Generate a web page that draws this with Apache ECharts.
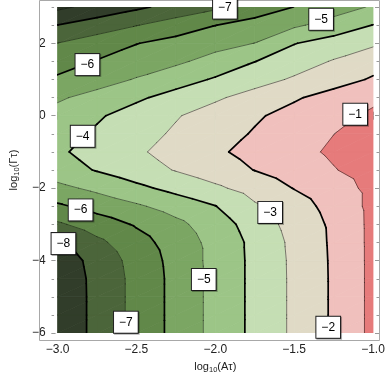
<!DOCTYPE html>
<html><head><meta charset="utf-8">
<script src="https://cdn.jsdelivr.net/npm/echarts@6/dist/echarts.min.js"></script>
<style>html,body{margin:0;padding:0;background:#fff}#c{width:388px;height:379px}</style>
</head><body><div id="c"></div>
<script>
// grid of sampled values: columns = log10(A tau), rows = log10(Gamma tau)
const xValues = [-3, -2.75, -2.5, -2.25, -2, -1.75, -1.5, -1.25, -1];
const yValues = [-6, -5.5, -5, -4.5, -4, -3.5, -3, -2.5, -2, -1.5, -1, -0.5, 0, 0.5, 1, 1.5, 2, 2.5, 3];
const row_y_m6_0 = [-8.75, -7.73, -6.71, -5.71, -4.69, -3.77, -2.82, -1.87, -0.76];
const row_y_m5_5 = [-8.75, -7.73, -6.71, -5.71, -4.69, -3.77, -2.82, -1.87, -0.76];
const row_y_m5_0 = [-8.75, -7.73, -6.71, -5.71, -4.69, -3.77, -2.82, -1.87, -0.76];
const row_y_m4_5 = [-8.74, -7.72, -6.71, -5.71, -4.69, -3.77, -2.82, -1.87, -0.76];
const row_y_m4_0 = [-8.65, -7.63, -6.64, -5.67, -4.69, -3.77, -2.81, -1.86, -0.76];
const row_y_m3_5 = [-8.04, -7.23, -6.39, -5.55, -4.69, -3.75, -2.77, -1.84, -0.76];
const row_y_m3_0 = [-7.15, -6.51, -5.90, -5.25, -4.49, -3.56, -2.63, -1.82, -0.76];
const row_y_m2_5 = [-6.16, -5.64, -5.14, -4.59, -4.03, -3.13, -2.42, -1.67, -0.75];
const row_y_m2_0 = [-5.26, -4.77, -4.23, -3.70, -3.18, -2.59, -1.97, -1.42, -0.75];
const row_y_m1_5 = [-4.45, -3.94, -3.44, -2.95, -2.46, -1.98, -1.51, -1.05, -0.60];
const row_y_m1_0 = [-4.15, -3.64, -3.14, -2.64, -2.15, -1.71, -1.28, -0.86, -0.45];
const row_y_m0_5 = [-4.36, -3.86, -3.36, -2.87, -2.39, -1.92, -1.46, -1.01, -0.58];
const row_y_p0_0 = [-4.64, -4.12, -3.59, -3.07, -2.59, -2.12, -1.69, -1.26, -0.84];
const row_y_p0_5 = [-5.14, -4.65, -4.16, -3.65, -3.14, -2.63, -2.11, -1.64, -1.19];
const row_y_p1_0 = [-5.86, -5.44, -4.93, -4.41, -3.90, -3.38, -2.88, -2.39, -1.90];
const row_y_p1_5 = [-6.40, -5.95, -5.57, -5.18, -4.65, -4.02, -3.47, -2.93, -2.38];
const row_y_p2_0 = [-6.99, -6.52, -6.03, -5.68, -5.34, -4.99, -4.04, -3.59, -3.16];
const row_y_p2_5 = [-7.99, -7.52, -7.04, -6.53, -6.02, -5.59, -5.16, -4.61, -3.98];
const row_y_p3_0 = [-9.21, -8.69, -8.18, -7.68, -7.19, -6.62, -5.99, -5.45, -4.90];
const fieldRows = [row_y_m6_0, row_y_m5_5, row_y_m5_0, row_y_m4_5, row_y_m4_0, row_y_m3_5,
  row_y_m3_0, row_y_m2_5, row_y_m2_0, row_y_m1_5, row_y_m1_0, row_y_m0_5, row_y_p0_0,
  row_y_p0_5, row_y_p1_0, row_y_p1_5, row_y_p2_0, row_y_p2_5, row_y_p3_0];

const contourLevels = [-9, -8, -7, -6, -5, -4, -3, -2, -1];
const thickLevels = [-8, -6, -4, -2];
const bandColors = ['#283122', '#313d2a', '#4b653a', '#618849', '#7ba663', '#9cc587',
  '#c5deb4', '#e0dac6', '#f0c0bd', '#e67b7b'];

// contour labels: [x, y, level]
const labelX = [-1.939, -1.329, -2.811, -2.841, -1.113, -2.854, -2.963, -1.652, -2.073, -2.567, -1.284];
const labelY = [2.97, 2.66, 1.41, -0.57, 0.04, -2.60, -3.53, -2.67, -4.52, -5.70, -5.84];
const labelLevel = [-7, -5, -6, -4, -1, -6, -8, -3, -5, -7, -2];

const xTickInterval = 0.5;
const yTickInterval = 2;
const yMinorInterval = 0.5;

const FONT = 'Liberation Sans, Arial, sans-serif';
const minus = v => (v < 0 ? '\u2212' : '') + Math.abs(v);

const cells = [];
for (let j = 0; j < yValues.length - 1; j++)
  for (let i = 0; i < xValues.length - 1; i++)
    cells.push([xValues[i], yValues[j], i, j]);

function clipHalf(pts, vals, level, keepAbove) {
  const out = [], outV = [];
  const n = pts.length;
  for (let k = 0; k < n; k++) {
    const a = pts[k], b = pts[(k + 1) % n], va = vals[k], vb = vals[(k + 1) % n];
    const da = keepAbove ? va - level : level - va;
    const db = keepAbove ? vb - level : level - vb;
    if (da >= 0) { out.push(a); outV.push(va); }
    if ((da >= 0) !== (db >= 0)) {
      const t = da / (da - db);
      out.push([a[0] + t * (b[0] - a[0]), a[1] + t * (b[1] - a[1])]);
      outV.push(level);
    }
  }
  return [out, outV];
}

function triangles(params, api) {
  const i = api.value(2), j = api.value(3);
  const P = (ii, jj) => api.coord([xValues[ii], yValues[jj]]);
  const V = (ii, jj) => fieldRows[jj][ii];
  const p00 = P(i, j), p10 = P(i + 1, j), p01 = P(i, j + 1), p11 = P(i + 1, j + 1);
  const v00 = V(i, j), v10 = V(i + 1, j), v01 = V(i, j + 1), v11 = V(i + 1, j + 1);
  return [[[p00, p10, p11], [v00, v10, v11]], [[p00, p11, p01], [v00, v11, v01]]];
}

function renderFill(params, api) {
  const children = [];
  triangles(params, api).forEach(([pts, vals]) => {
    const vmin = Math.min(...vals), vmax = Math.max(...vals);
    for (let k = 0; k <= contourLevels.length; k++) {
      const lo = k === 0 ? -Infinity : contourLevels[k - 1];
      const hi = k === contourLevels.length ? Infinity : contourLevels[k];
      if (vmax < lo || vmin > hi) continue;
      let poly = [pts, vals];
      if (lo > -Infinity) poly = clipHalf(poly[0], poly[1], lo, true);
      if (poly[0].length < 3) continue;
      if (hi < Infinity) poly = clipHalf(poly[0], poly[1], hi, false);
      if (poly[0].length < 3) continue;
      children.push({
        type: 'polygon', shape: { points: poly[0] },
        style: { fill: bandColors[k], stroke: bandColors[k], lineWidth: 0.8 }
      });
    }
  });
  return { type: 'group', children };
}

function renderLines(params, api) {
  const children = [];
  triangles(params, api).forEach(([pts, vals]) => {
    contourLevels.forEach(L => {
      const cross = [];
      for (let k = 0; k < 3; k++) {
        const a = pts[k], b = pts[(k + 1) % 3], va = vals[k], vb = vals[(k + 1) % 3];
        if ((va - L) * (vb - L) < 0) {
          const t = (L - va) / (vb - va);
          cross.push([a[0] + t * (b[0] - a[0]), a[1] + t * (b[1] - a[1])]);
        }
      }
      if (cross.length === 2) {
        const thick = thickLevels.indexOf(L) >= 0;
        children.push({
          type: 'line',
          shape: { x1: cross[0][0], y1: cross[0][1], x2: cross[1][0], y2: cross[1][1] },
          style: { stroke: thick ? '#000' : 'rgba(0,0,0,0.62)', lineWidth: thick ? 1.7 : 0.75, lineCap: 'round' }
        });
      }
    });
  });
  return { type: 'group', children };
}

const tickColor = '#9a9a9a';
const noSplit = { show: false };
function xAx(pos, labels) {
  return {
    type: 'value', min: -3, max: -1, interval: xTickInterval, position: pos, offset: 6,
    axisLine: { show: false },
    axisTick: { show: true, inside: true, length: 4, lineStyle: { color: tickColor } },
    minorTick: { show: true, splitNumber: 5, length: 2.5, lineStyle: { color: tickColor } },
    splitLine: noSplit, minorSplitLine: noSplit,
    axisLabel: labels ? { show: true, margin: 5, color: '#222', fontSize: 12, fontFamily: FONT,
      formatter: v => (v < 0 ? '\u2212' : '') + Math.abs(v).toFixed(1) } : { show: false }
  };
}
function yAx(pos, interval, len, labels) {
  return {
    type: 'value', min: -6, max: 3, interval, position: pos, offset: 6,
    axisLine: { show: false },
    axisTick: { show: true, inside: true, length: len, lineStyle: { color: tickColor } },
    splitLine: noSplit,
    axisLabel: labels ? { show: true, margin: 6, color: '#222', fontSize: 12, fontFamily: FONT,
      showMaxLabel: false, formatter: v => minus(v) } : { show: false }
  };
}

const nameStyle = { rich: {
  a: { fontSize: 11, fontFamily: FONT, color: '#222', lineHeight: 15 },
  s: { fontSize: 7.5, fontFamily: FONT, color: '#222', lineHeight: 7, verticalAlign: 'bottom' } } };

const xMain = xAx('bottom', true);
xMain.name = '{a|log}{s|10}{a|(A\u03c4)}';
xMain.nameLocation = 'middle';
xMain.nameGap = 17;
xMain.nameTextStyle = nameStyle;

const yMain = yAx('left', yTickInterval, 4, true);
yMain.name = '{a|log}{s|10}{a|(\u0393\u03c4)}';
yMain.nameLocation = 'middle';
yMain.nameGap = 23;
yMain.nameTextStyle = nameStyle;

const chart = echarts.init(document.getElementById('c'), null, { renderer: 'canvas' });
chart.setOption({
  animation: false,
  backgroundColor: '#fff',
  grid: { left: 45, top: 7, width: 328, height: 328, containLabel: false },
  xAxis: [xMain, xAx('top', false)],
  yAxis: [yMain, yAx('left', yMinorInterval, 2.5, false), yAx('right', yTickInterval, 4, false), yAx('right', yMinorInterval, 2.5, false)],
  graphic: [{ type: 'rect', shape: { x: 39.5, y: 0.5, width: 340, height: 340 },
    style: { fill: 'none', stroke: '#a8a8a8', lineWidth: 1 }, z: 1, silent: true }],
  series: [
    { type: 'custom', xAxisIndex: 0, yAxisIndex: 0, data: cells, renderItem: renderFill, clip: true, z: 1, silent: true },
    { type: 'custom', xAxisIndex: 0, yAxisIndex: 0, data: cells, renderItem: renderLines, clip: true, z: 2, silent: true },
    { type: 'scatter', xAxisIndex: 0, yAxisIndex: 0, z: 5, silent: true, clip: false,
      data: labelX.map((x, k) => [x, labelY[k], labelLevel[k]]),
      symbolSize: 1, itemStyle: { color: 'rgba(0,0,0,0)', opacity: 1 },
      label: { show: true, position: 'inside', formatter: p => minus(p.value[2]),
        color: '#000', fontSize: 12, fontFamily: FONT, lineHeight: 13,
        backgroundColor: '#ffffff', borderColor: '#222', borderWidth: 1, padding: [4, 5, 4, 5],
        shadowColor: 'rgba(0,0,0,0.3)', shadowOffsetX: 1, shadowOffsetY: 1, shadowBlur: 0,
        textBorderWidth: 0, textShadowBlur: 0 } }
  ]
});
</script></body></html>
